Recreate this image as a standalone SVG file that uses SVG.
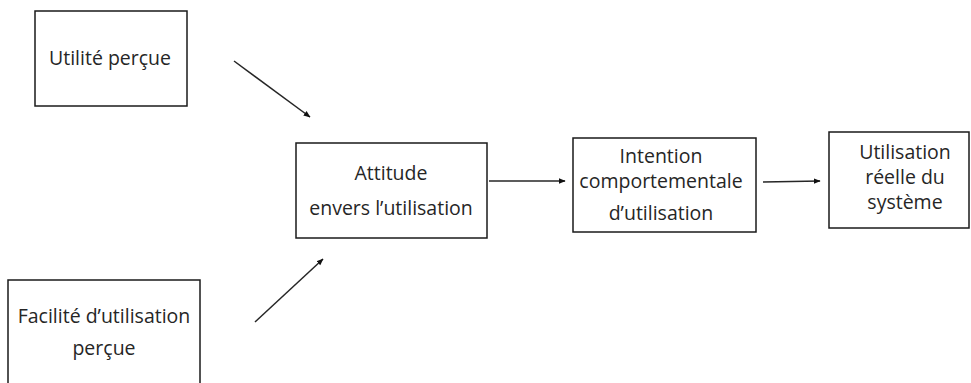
<svg xmlns="http://www.w3.org/2000/svg" width="971" height="383" viewBox="0 0 971 383">
<defs>
<style>
.box{fill:#fff;stroke:#1a1a1a;stroke-width:1.5}
.t{font-family:"Open Sans","Noto Sans",sans-serif;font-size:19.5px;fill:#262626;text-anchor:middle}
.c{stroke:#262626;stroke-width:1.5;fill:none;marker-end:url(#ah)}
</style>
<marker id="ah" viewBox="0 0 10 10" refX="9" refY="5" markerWidth="7" markerHeight="7" orient="auto" markerUnits="userSpaceOnUse">
<path d="M0,1 L10,5 L0,9 Z" fill="#111"/>
</marker>
</defs>
<rect width="971" height="383" fill="#fff"/>
<g id="connectors">
<line class="c" x1="234" y1="61" x2="310" y2="117"/>
<line class="c" x1="255" y1="322" x2="323" y2="259"/>
<line class="c" x1="489" y1="181" x2="565" y2="181"/>
<line class="c" x1="763" y1="182" x2="820" y2="181"/>
</g>
<g id="utilite">
<rect class="box" x="35" y="11" width="152" height="95"/>
<text class="t" x="110" y="65">Utilité perçue</text>
</g>
<g id="facilite">
<rect class="box" x="8" y="280" width="192" height="110"/>
<text class="t" x="104" y="323">Facilité d’utilisation</text>
<text class="t" x="104" y="355">perçue</text>
</g>
<g id="attitude">
<rect class="box" x="296" y="143" width="191" height="95"/>
<text class="t" x="391" y="180">Attitude</text>
<text class="t" x="391" y="215">envers l’utilisation</text>
</g>
<g id="intention">
<rect class="box" x="573" y="138" width="183" height="94"/>
<text class="t" x="661" y="163">Intention</text>
<text class="t" x="661" y="188">comportementale</text>
<text class="t" x="661" y="220">d’utilisation</text>
</g>
<g id="utilisation">
<rect class="box" x="829" y="132" width="140" height="96"/>
<text class="t" x="905" y="159">Utilisation</text>
<text class="t" x="905" y="184">réelle du</text>
<text class="t" x="905" y="209">système</text>
</g>
</svg>
